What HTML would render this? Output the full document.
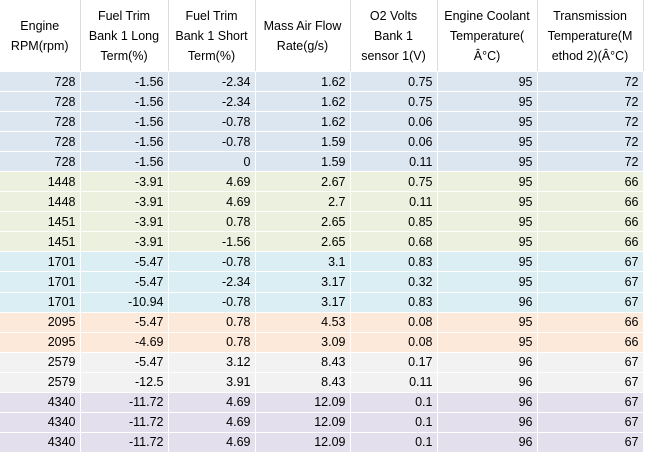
<!DOCTYPE html>
<html><head><meta charset="utf-8"><style>
body{margin:0;width:652px;height:458px;background:#fff;overflow:hidden;font-family:"Liberation Sans",sans-serif;font-size:12.5px;color:#000}
table{border-collapse:collapse;table-layout:fixed;position:absolute;left:0;top:0}
th{font-weight:normal;height:71px;line-height:20px;border-right:1px solid #dcdcdc;border-bottom:1px solid #fff;padding:0 1px;text-align:center;vertical-align:middle;overflow:hidden;white-space:nowrap}
td{height:19.05px;border-right:1px solid #fff;border-bottom:1px solid #fff;text-align:right;padding:0 4px 0 0;white-space:nowrap}
.a td{background:#dce6f1}.b td{background:#ebf1de}.c td{background:#daeef3}.d td{background:#fde9d9}.e td{background:#f2f2f2}.f td{background:#e4dfec}
td.x,th.x{background:#fff;border-right:none}
</style></head><body>
<table>
<colgroup><col style="width:80px"><col style="width:88px"><col style="width:87px"><col style="width:95px"><col style="width:87px"><col style="width:100px"><col style="width:106px"><col style="width:9px"></colgroup>
<thead><tr>
<th>Engine<br>RPM(rpm)</th>
<th>Fuel Trim<br>Bank 1 Long<br>Term(%)</th>
<th>Fuel Trim<br>Bank 1 Short<br>Term(%)</th>
<th>Mass Air Flow<br>Rate(g/s)</th>
<th>O2 Volts<br>Bank 1<br>sensor 1(V)</th>
<th>Engine Coolant<br>Temperature(<br>Â°C)</th>
<th>Transmission<br>Temperature(M<br>ethod 2)(Â°C)</th>
<th class="x"></th></tr></thead>
<tbody id="tb"></tbody></table>
<script>
const groups=["a","a","a","a","a","b","b","b","b","c","c","c","d","d","e","e","f","f","f"];
const rpm=[728,728,728,728,728,1448,1448,1451,1451,1701,1701,1701,2095,2095,2579,2579,4340,4340,4340];
const ftLong=["-1.56","-1.56","-1.56","-1.56","-1.56","-3.91","-3.91","-3.91","-3.91","-5.47","-5.47","-10.94","-5.47","-4.69","-5.47","-12.5","-11.72","-11.72","-11.72"];
const ftShort=["-2.34","-2.34","-0.78","-0.78","0","4.69","4.69","0.78","-1.56","-0.78","-2.34","-0.78","0.78","0.78","3.12","3.91","4.69","4.69","4.69"];
const maf=["1.62","1.62","1.62","1.59","1.59","2.67","2.7","2.65","2.65","3.1","3.17","3.17","4.53","3.09","8.43","8.43","12.09","12.09","12.09"];
const o2=["0.75","0.75","0.06","0.06","0.11","0.75","0.11","0.85","0.68","0.83","0.32","0.83","0.08","0.08","0.17","0.11","0.1","0.1","0.1"];
const coolant=[95,95,95,95,95,95,95,95,95,95,95,96,95,95,96,96,96,96,96];
const trans=[72,72,72,72,72,66,66,66,66,67,67,67,66,66,67,67,67,67,67];
const names=["engine-rpm","fuel-trim-long","fuel-trim-short","mass-air-flow","o2-volts","coolant-temp","transmission-temp"];
const tb=document.getElementById('tb');
for(let i=0;i<rpm.length;i++){
  const tr=document.createElement('tr');
  tr.className=groups[i];
  
  
  const vals=[rpm[i],ftLong[i],ftShort[i],maf[i],o2[i],coolant[i],trans[i]];
  vals.forEach((v,j)=>{
    const td=document.createElement('td');
    td.textContent=v;
    
    
    tr.appendChild(td);
  });
  const e=document.createElement('td');e.className='x';
  
  
  tr.appendChild(e);
  tb.appendChild(tr);
}
</script>
</body></html>
